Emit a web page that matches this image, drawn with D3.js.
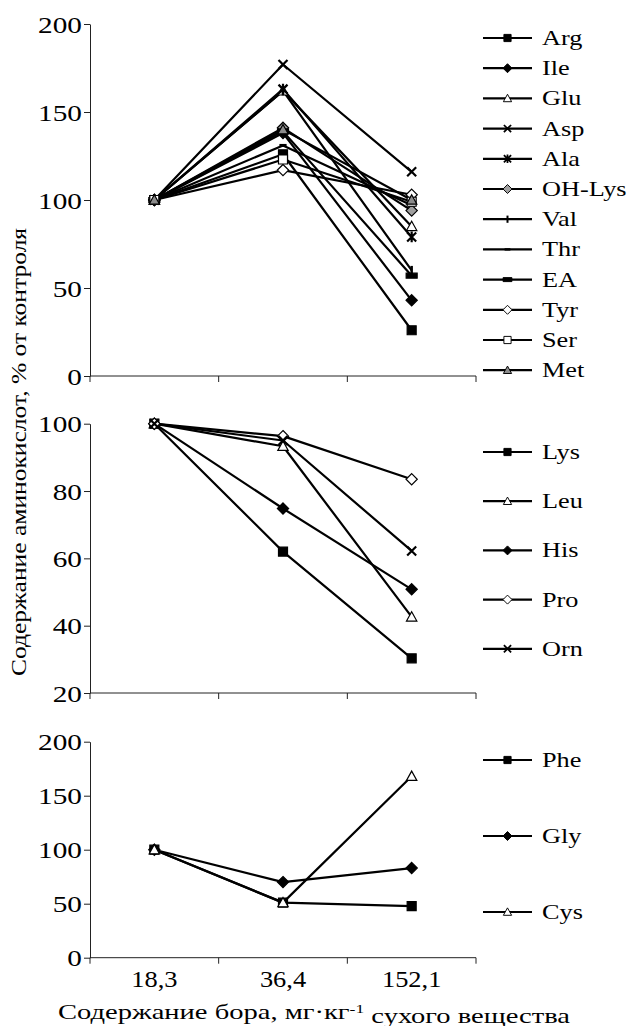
<!DOCTYPE html>
<html>
<head>
<meta charset="utf-8">
<script src="https://cdn.jsdelivr.net/npm/d3@7"></script>
<style>
  body { margin: 0; background: #fff; }
  text { font-family: "Liberation Serif", "Times New Roman", serif; fill: #000; }
</style>
</head>
<body>
<div id="chart"></div>
<script>
// boron dose, mg/kg dry matter
const doses = ["18,3", "36,4", "152,1"];

// top panel
const topNames = ["Arg", "Ile", "Glu", "Asp", "Ala", "OH-Lys", "Val", "Thr", "EA", "Tyr", "Ser", "Met"];
const topShapes = ["square", "diamond", "triangleOpen", "times", "asterisk", "diamondGray", "plus", "dash", "dashThick", "diamondOpen", "squareOpen", "triangleGray"];
const topValues = [
  [100, 126, 26],
  [100, 138, 43],
  [100, 162, 85],
  [100, 177, 116],
  [100, 163, 79],
  [100, 141, 94],
  [100, 162, 60],
  [100, 131, 97],
  [100, 139, 57],
  [100, 117, 103],
  [100, 123, 99],
  [100, 140, 100]
];

// middle panel
const midNames = ["Lys", "Leu", "His", "Pro", "Orn"];
const midShapes = ["square", "triangleOpen", "diamond", "diamondOpen", "times"];
const midValues = [
  [100, 62, 30.3],
  [100, 93.3, 42.6],
  [100, 74.8, 50.8],
  [100, 96.3, 83.5],
  [100, 95, 62.2]
];

// bottom panel
const botNames = ["Phe", "Gly", "Cys"];
const botShapes = ["square", "diamond", "triangleOpen"];
const botValues = [
  [100, 51, 47.8],
  [100, 70, 83],
  [100, 51, 168]
];

const width = 630, height = 1026;

const svg = d3.select("#chart").append("svg")
  .attr("width", width).attr("height", height);

const x = d3.scaleBand().domain(doses).range([90, 476]);
const cx = d => x(d) + x.bandwidth() / 2;

function markerPath(shape, s) {
  const r = s / 2;
  switch (shape) {
    case "square": case "squareOpen":
      return `M${-r},${-r}h${s}v${s}h${-s}Z`;
    case "diamond": case "diamondOpen": case "diamondGray": {
      const d = r * 1.25;
      return `M0,${-d}L${d},0L0,${d}L${-d},0Z`;
    }
    case "triangleOpen": case "triangleGray": {
      const t = r * 1.15;
      return `M0,${-t}L${t},${t * 0.8}L${-t},${t * 0.8}Z`;
    }
    case "times":
      return `M${-r},${-r}L${r},${r}M${-r},${r}L${r},${-r}`;
    case "asterisk":
      return `M${-r},${-r}L${r},${r}M${-r},${r}L${r},${-r}M0,${-r * 1.2}V${r * 1.2}`;
    case "plus":
      return `M0,${-r}V${r}`;
    case "dash":
      return `M${-r * 0.8},0H${r * 0.8}`;
    case "dashThick":
      return `M${-r * 1.1},${-r * 0.5}h${r * 2.2}v${r}h${-r * 2.2}Z`;
  }
}

function markerStyle(sel, shape) {
  const fill = {
    square: "#000", diamond: "#000", dashThick: "#000",
    squareOpen: "#fff", diamondOpen: "#fff", triangleOpen: "#fff",
    diamondGray: "#a0a0a0", triangleGray: "#8c8c8c"
  }[shape] || "none";
  let sw = 1.2;
  if (shape === "times" || shape === "asterisk") sw = 2.2;
  if (shape === "plus") sw = 2.5;
  if (shape === "dash") sw = 3;
  sel.attr("d", markerPath(shape, shape === "dashThick" ? 10 : 9))
    .attr("fill", fill)
    .attr("stroke", "#000")
    .attr("stroke-width", sw);
}

function panel(cfg) {
  const y = d3.scaleLinear().domain(cfg.domain).range([cfg.bottom, cfg.top]);
  const g = svg.append("g");

  // y axis
  const ya = g.append("g")
    .attr("transform", "translate(90,0)")
    .call(d3.axisLeft(y).tickValues(cfg.ticks).tickSize(6).tickSizeOuter(0).tickPadding(0));
  ya.select(".domain").attr("stroke", "#222");
  ya.selectAll(".tick line").attr("stroke", "#222");
  ya.selectAll(".tick text")
    .attr("x", -6.6).attr("dy", "0.34em")
    .attr("transform", "scale(1.22,1)")
    .style("font-size", "24px");

  // x axis with ticks between categories
  const edges = doses.map(d => x(d)).concat([x.range()[1]]);
  g.append("line")
    .attr("x1", x.range()[0]).attr("x2", x.range()[1])
    .attr("y1", cfg.bottom).attr("y2", cfg.bottom)
    .attr("stroke", "#222");
  g.selectAll(".xt").data(edges).join("line")
    .attr("x1", d => d).attr("x2", d => d)
    .attr("y1", cfg.bottom).attr("y2", cfg.bottom + 6)
    .attr("stroke", "#222");
  if (cfg.labels) {
    g.selectAll(".xl").data(doses).join("text")
      .attr("transform", d => `translate(${cx(d)},${cfg.bottom + 29}) scale(1.1,1)`)
      .attr("text-anchor", "middle")
      .style("font-size", "24px")
      .text(d => d);
  }

  // series
  const line = d3.line().x((v, i) => cx(doses[i])).y(v => y(v));
  cfg.names.forEach((name, k) => {
    g.append("path")
      .attr("d", line(cfg.values[k]))
      .attr("fill", "none")
      .attr("stroke", "#000")
      .attr("stroke-width", 2.2)
      .attr("stroke-linejoin", "round");
  });
  cfg.names.forEach((name, k) => {
    g.selectAll(null).data(cfg.values[k]).join("path")
      .attr("transform", (v, i) => `translate(${cx(doses[i])},${y(v)})`)
      .call(markerStyle, cfg.shapes[k]);
  });

  // legend
  const lg = g.append("g");
  cfg.names.forEach((name, k) => {
    const ly = cfg.legendY + k * cfg.legendStep;
    lg.append("line")
      .attr("x1", 483).attr("x2", 532).attr("y1", ly).attr("y2", ly)
      .attr("stroke", "#000").attr("stroke-width", 2.2);
    lg.append("path")
      .attr("transform", `translate(507.5,${ly}) scale(0.8)`)
      .call(markerStyle, cfg.shapes[k]);
    lg.append("text")
      .attr("transform", `translate(542,${ly + 7}) scale(1.25,1)`)
      .style("font-size", "21px")
      .text(name);
  });
}

panel({ names: topNames, values: topValues, shapes: topShapes,
  domain: [0, 200], ticks: [0, 50, 100, 150, 200], top: 24, bottom: 376,
  legendY: 38, legendStep: 30.2 });
panel({ names: midNames, values: midValues, shapes: midShapes,
  domain: [20, 100], ticks: [20, 40, 60, 80, 100], top: 423.7, bottom: 693,
  legendY: 452, legendStep: 49.2 });
panel({ names: botNames, values: botValues, shapes: botShapes,
  domain: [0, 200], ticks: [0, 50, 100, 150, 200], top: 741.7, bottom: 957.7,
  legendY: 760, legendStep: 76, labels: true });

// axis titles
svg.append("text")
  .attr("transform", "translate(26,452) rotate(-90) scale(1.16,1)")
  .attr("text-anchor", "middle")
  .style("font-size", "22px")
  .text("Содержание аминокислот, % от контроля");

const xt = svg.append("text")
  .attr("transform", "translate(314,1019) scale(1.36,1)")
  .attr("text-anchor", "middle")
  .style("font-size", "21px");
xt.append("tspan").text("Содержание бора, мг·кг");
xt.append("tspan").attr("dy", "-0.45em").style("font-size", "13px").text("-1");
xt.append("tspan").attr("dy", "0.45em").text(" сухого вещества");
</script>
</body>
</html>
